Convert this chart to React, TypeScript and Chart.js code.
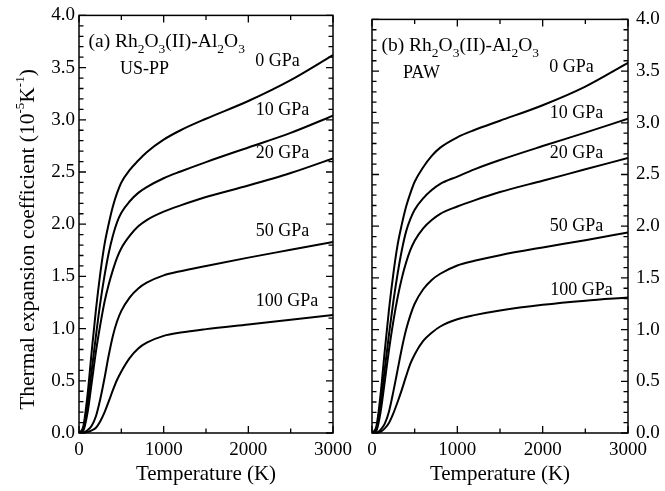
import React, { useEffect, useRef } from "react";
import { Chart, registerables } from "chart.js";

Chart.register(...registerables);

// ---------------- data ----------------
const temperatures = [0, 50, 100, 150, 200, 250, 300, 350, 400, 450, 500, 600, 700, 800, 1000, 1200, 1500, 2000, 2500, 3000];

const pressureLabels = ["0 GPa", "10 GPa", "20 GPa", "50 GPa", "100 GPa"];

// (a) US-PP
const usppP0 = [0, 0.06, 0.36, 0.78, 1.18, 1.52, 1.80, 2.00, 2.17, 2.30, 2.40, 2.52, 2.61, 2.69, 2.81, 2.90, 3.01, 3.18, 3.38, 3.62];
const usppP10 = [0, 0.04, 0.27, 0.60, 0.93, 1.24, 1.50, 1.72, 1.89, 2.02, 2.11, 2.22, 2.30, 2.355, 2.44, 2.505, 2.595, 2.735, 2.875, 3.04];
const usppP20 = [0, 0.02, 0.19, 0.48, 0.78, 1.03, 1.25, 1.42, 1.56, 1.68, 1.77, 1.89, 1.98, 2.04, 2.12, 2.18, 2.26, 2.37, 2.49, 2.63];
const usppP50 = [0, 0.002, 0.025, 0.07, 0.16, 0.32, 0.52, 0.74, 0.93, 1.07, 1.17, 1.30, 1.385, 1.44, 1.51, 1.55, 1.60, 1.68, 1.755, 1.83];
const usppP100 = [0, 0, 0.008, 0.025, 0.05, 0.11, 0.195, 0.30, 0.41, 0.51, 0.59, 0.72, 0.81, 0.865, 0.93, 0.962, 0.995, 1.04, 1.085, 1.13];

// (b) PAW
const pawP0 = [0, 0.06, 0.37, 0.80, 1.20, 1.54, 1.82, 2.02, 2.19, 2.32, 2.43, 2.57, 2.68, 2.76, 2.86, 2.93, 3.02, 3.17, 3.35, 3.58];
const pawP10 = [0, 0.04, 0.28, 0.62, 0.96, 1.27, 1.54, 1.77, 1.95, 2.07, 2.16, 2.27, 2.35, 2.41, 2.48, 2.55, 2.64, 2.775, 2.905, 3.04];
const pawP20 = [0, 0.02, 0.20, 0.50, 0.81, 1.08, 1.31, 1.50, 1.65, 1.77, 1.86, 1.98, 2.06, 2.12, 2.19, 2.25, 2.33, 2.44, 2.55, 2.66];
const pawP50 = [0, 0.003, 0.03, 0.09, 0.21, 0.40, 0.61, 0.82, 1.00, 1.14, 1.25, 1.39, 1.48, 1.54, 1.62, 1.665, 1.72, 1.795, 1.865, 1.94];
const pawP100 = [0, 0.001, 0.012, 0.045, 0.10, 0.19, 0.30, 0.42, 0.55, 0.67, 0.76, 0.89, 0.97, 1.03, 1.10, 1.14, 1.185, 1.24, 1.28, 1.31];

const xTickValues = [0, 1000, 2000, 3000];
const yTickLabels = ["0.0", "0.5", "1.0", "1.5", "2.0", "2.5", "3.0", "3.5", "4.0"];

// curve label anchors (data coordinates)
const usppLabelT = [2344, 2403, 2403, 2403, 2457];
const usppLabelV = [3.56, 3.09, 2.68, 1.93, 1.26];
const pawLabelT = [2338, 2397, 2397, 2397, 2455];
const pawLabelV = [3.54, 3.09, 2.71, 2.0, 1.38];

const FONT = '"Liberation Serif", "Times New Roman", Times, serif';

type Seg = { t: string; k?: "sub" | "sup" };

function drawRich(ctx: CanvasRenderingContext2D, segs: Seg[], x: number, y: number, size: number, small: number, align: "left" | "center") {
  const fontFor = (k?: string) => `${k ? small : size}px ${FONT}`;
  let total = 0;
  const ws = segs.map((s) => {
    ctx.font = fontFor(s.k);
    const w = ctx.measureText(s.t).width;
    total += w;
    return w;
  });
  let cx = align === "center" ? x - total / 2 : x;
  ctx.textAlign = "left";
  ctx.textBaseline = "alphabetic";
  segs.forEach((s, i) => {
    ctx.font = fontFor(s.k);
    const dy = s.k === "sub" ? size * 0.27 : s.k === "sup" ? -size * 0.45 : 0;
    ctx.fillText(s.t, cx, y + dy);
    cx += ws[i];
  });
}

const compoundSegs = (tag: string): Seg[] => [
  { t: tag + " Rh" },
  { t: "2", k: "sub" },
  { t: "O" },
  { t: "3", k: "sub" },
  { t: "(II)-Al" },
  { t: "2", k: "sub" },
  { t: "O" },
  { t: "3", k: "sub" },
];

type PanelCfg = {
  side: "left" | "right";
  series: number[][];
  labelT: number[];
  labelV: number[];
  tag: string;
  method: string;
};

function makePlugin(cfg: PanelCfg) {
  return {
    id: "panelDeco" + cfg.side,
    afterDraw(chart: any) {
      const ctx: CanvasRenderingContext2D = chart.ctx;
      const { left, right, top, bottom } = chart.chartArea;
      const xs = chart.scales.x;
      const ys = chart.scales.y;
      ctx.save();
      ctx.strokeStyle = "#000";
      ctx.fillStyle = "#000";
      // frame
      ctx.lineWidth = 1.5;
      ctx.strokeRect(left, top, right - left, bottom - top);
      // ticks
      ctx.lineWidth = 1.3;
      ctx.beginPath();
      for (let v = 0; v <= 3000; v += 500) {
        const px = xs.getPixelForValue(v);
        const len = v % 1000 === 0 ? 7 : 4.5;
        ctx.moveTo(px, bottom);
        ctx.lineTo(px, bottom - len);
        ctx.moveTo(px, top);
        ctx.lineTo(px, top + len);
      }
      for (let i = 0; i <= 40; i++) {
        const v = i / 10;
        const py = ys.getPixelForValue(v);
        const len = i % 5 === 0 ? 7 : 4.5;
        ctx.moveTo(left, py);
        ctx.lineTo(left + len, py);
        ctx.moveTo(right, py);
        ctx.lineTo(right - len, py);
      }
      ctx.stroke();

      // curve labels
      ctx.font = `18px ${FONT}`;
      ctx.textAlign = "center";
      ctx.textBaseline = "middle";
      pressureLabels.forEach((lab, i) => {
        ctx.fillText(lab, xs.getPixelForValue(cfg.labelT[i]), ys.getPixelForValue(cfg.labelV[i]));
      });

      // panel annotation
      drawRich(ctx, compoundSegs(cfg.tag), left + 9.5, top + 32, 19.5, 13.5, "left");
      ctx.font = `18px ${FONT}`;
      ctx.textAlign = "left";
      ctx.textBaseline = "alphabetic";
      ctx.fillText(cfg.method, cfg.side === "left" ? left + 41 : left + 31, top + 59);

      // x title
      ctx.font = `21px ${FONT}`;
      ctx.textAlign = "center";
      ctx.textBaseline = "alphabetic";
      ctx.fillText("Temperature (K)", (left + right) / 2, 480);

      // y title (left panel only)
      if (cfg.side === "left") {
        ctx.save();
        ctx.translate(33.5, 239.5);
        ctx.rotate(-Math.PI / 2);
        drawRich(
          ctx,
          [
            { t: "Thermal expansion coefficient (10" },
            { t: "-5", k: "sup" },
            { t: "K" },
            { t: "-1", k: "sup" },
            { t: ")" },
          ],
          0,
          0,
          21.5,
          13,
          "center"
        );
        ctx.restore();
      }
      ctx.restore();
    },
  };
}

function Panel({ cfg, canvasLeft, width, plotLeft, plotRight }: { cfg: PanelCfg; canvasLeft: number; width: number; plotLeft: number; plotRight: number }) {
  const ref = useRef<HTMLCanvasElement | null>(null);
  useEffect(() => {
    if (!ref.current) return;
    const isLeft = cfg.side === "left";
    const chart = new Chart(ref.current, {
      type: "line",
      data: {
        datasets: cfg.series.map((vals, i) => ({
          label: pressureLabels[i],
          data: temperatures.map((t, j) => ({ x: t, y: vals[j] })),
          borderColor: "#000",
          borderWidth: 2,
          pointRadius: 0,
          fill: false,
          cubicInterpolationMode: "monotone" as const,
        })),
      },
      options: {
        animation: false,
        responsive: false,
        maintainAspectRatio: false,
        layout: {
          padding: {
            top: 14,
            bottom: 0,
            left: isLeft ? 0 : plotLeft,
            right: isLeft ? width - plotRight : 0,
          },
        },
        plugins: { legend: { display: false }, tooltip: { enabled: false } },
        scales: {
          x: {
            type: "linear",
            min: 0,
            max: 3000,
            afterBuildTicks: (s: any) => {
              s.ticks = xTickValues.map((v) => ({ value: v }));
            },
            ticks: {
              font: { family: FONT, size: 19 },
              color: "#000",
              padding: 6,
              maxRotation: 0,
              callback: (v: any) => String(v),
            },
            grid: { display: false, drawTicks: false, tickLength: 0 },
            border: { display: false },
            afterFit: (s: any) => {
              s.height = 58;
            },
          },
          y: {
            type: "linear",
            position: isLeft ? "left" : "right",
            min: 0,
            max: 4,
            afterBuildTicks: (s: any) => {
              s.ticks = yTickLabels.map((l) => ({ value: parseFloat(l) }));
            },
            ticks: {
              font: { family: FONT, size: 19 },
              color: "#000",
              padding: isLeft ? 4 : 8,
              callback: (v: any) => yTickLabels.find((l) => parseFloat(l) === v) ?? "",
            },
            grid: { display: false, drawTicks: false, tickLength: 0 },
            border: { display: false },
            afterFit: (s: any) => {
              s.width = isLeft ? plotLeft : width - plotRight;
            },
          },
        },
      },
      plugins: [makePlugin(cfg)],
    } as any);
    return () => chart.destroy();
  }, []);
  return (
    <canvas
      ref={ref}
      width={width}
      height={491}
      style={{ position: "absolute", left: canvasLeft, top: 0, width, height: 491 }}
    />
  );
}

export default function App() {
  const left: PanelCfg = {
    side: "left",
    series: [usppP0, usppP10, usppP20, usppP50, usppP100],
    labelT: usppLabelT,
    labelV: usppLabelV,
    tag: "(a)",
    method: "US-PP",
  };
  const right: PanelCfg = {
    side: "right",
    series: [pawP0, pawP10, pawP20, pawP50, pawP100],
    labelT: pawLabelT,
    labelV: pawLabelV,
    tag: "(b)",
    method: "PAW",
  };
  return (
    <div style={{ position: "absolute", left: 0, top: 0, width: 665, height: 491, background: "#fff" }}>
      <Panel cfg={left} canvasLeft={0} width={358} plotLeft={79} plotRight={335} />
      <Panel cfg={right} canvasLeft={358} width={307} plotLeft={14} plotRight={270} />
    </div>
  );
}
